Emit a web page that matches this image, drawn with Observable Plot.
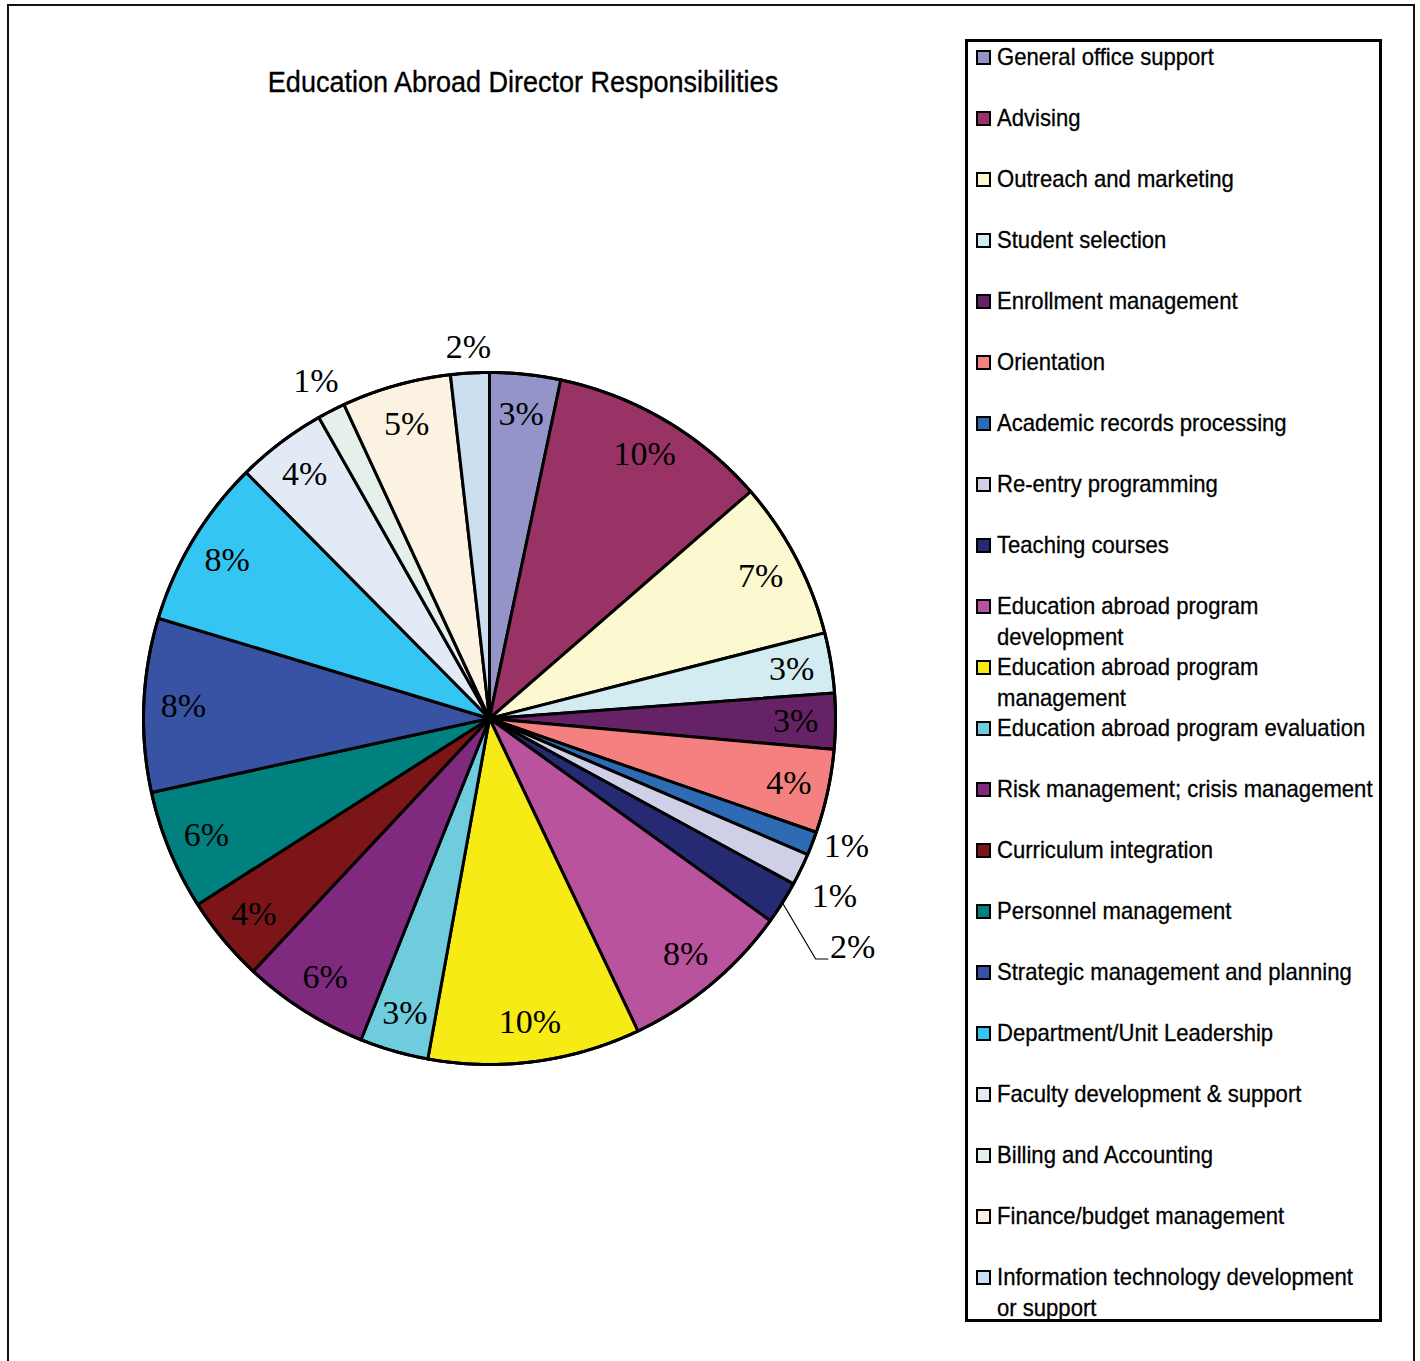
<!DOCTYPE html>
<html>
<head>
<meta charset="utf-8">
<script src="https://cdn.jsdelivr.net/npm/d3@7"></script>
<script src="https://cdn.jsdelivr.net/npm/@observablehq/plot@0.6"></script>
<style>
  html, body { margin: 0; padding: 0; background: #fff; }
  #page { position: relative; width: 1420px; height: 1361px; overflow: hidden; }
  #frame { position: absolute; left: 7px; top: 4px; width: 1408px; height: 1400px; border: 2px solid #111; box-sizing: border-box; }
  #title { position: absolute; left: 0; top: 67px; width: 1046px; text-align: center;
    font-family: "Liberation Sans", Arial, sans-serif; font-size: 30px; line-height: 30px; color: #000;
    white-space: nowrap; transform: scaleX(0.9); transform-origin: 523px 0; -webkit-text-stroke: 0.35px #000; }
  #chart { position: absolute; left: 0; top: 0; }
  #legend { position: absolute; left: 965px; top: 39px; width: 417px; height: 1283px; border: 3px solid #000; box-sizing: border-box; }
  .item { position: absolute; left: 0; width: 100%; font-family: "Liberation Sans", Arial, sans-serif;
    font-size: 24px; line-height: 30.5px; color: #000; }
  .sw { position: absolute; left: 8px; top: 8px; width: 15px; height: 15px; border: 2.5px solid #000; box-sizing: border-box; }
  .lt { position: absolute; left: 29px; white-space: pre; transform: scaleX(0.92); transform-origin: 0 0; -webkit-text-stroke: 0.3px #000; }
</style>
</head>
<body>
<div id="page">
  <div id="frame"></div>
  <div id="title">Education Abroad Director Responsibilities</div>
  <div id="chart"></div>
  <div id="legend"></div>
</div>
<script>
const categories = [
  "General office support", "Advising", "Outreach and marketing", "Student selection",
  "Enrollment management", "Orientation", "Academic records processing", "Re-entry programming",
  "Teaching courses", "Education abroad program development", "Education abroad program management",
  "Education abroad program evaluation", "Risk management; crisis management", "Curriculum integration",
  "Personnel management", "Strategic management and planning", "Department/Unit Leadership",
  "Faculty development & support", "Billing and Accounting", "Finance/budget management",
  "Information technology development or support"
];
// legend text as wrapped in the reference
const legendLabels = categories.map(c => c
  .replace("program development", "program\ndevelopment")
  .replace("program management", "program\nmanagement")
  .replace("development or support", "development\nor support"));
const values = [3.3, 10.3, 7.4, 2.8, 2.6, 3.9, 1.1, 1.5, 2.0, 8.0, 9.9, 3.2, 5.9, 4.0, 5.6, 8.1, 7.9, 4.2, 1.3, 5.1, 1.8];
const labels = ["3%", "10%", "7%", "3%", "3%", "4%", "1%", "1%", "2%", "8%", "10%", "3%", "6%", "4%", "6%", "8%", "8%", "4%", "1%", "5%", "2%"];
const colors = [
  "#9494c8", "#993366", "#fcf8cf", "#d2ecf2", "#662266", "#f48080", "#2f6bb5", "#d0cfe8",
  "#262a73", "#ba539e", "#f7eb15", "#6fccdc", "#7f2a7e", "#7b1517", "#00807f", "#3953a4",
  "#34c5f2", "#e2eaf6", "#e6f0ea", "#fbf2e1", "#ccdff0"
];

// geometry of the plot frame
const W = 960, H = 1361, CX = 489, CY = 718, R = 346;

const arcs = d3.pie().sort(null).value(d => d)(values); // angles from 12 o'clock clockwise

// polygon points for each slice
const pts = [];
arcs.forEach((a, i) => {
  const name = categories[i];
  pts.push({name, x: 0, y: 0});
  const n = Math.max(2, Math.ceil((a.endAngle - a.startAngle) / 0.005));
  for (let k = 0; k <= n; k++) {
    const t = a.startAngle + (a.endAngle - a.startAngle) * k / n;
    pts.push({name, x: Math.sin(t), y: Math.cos(t)});
  }
  pts.push({name, x: 0, y: 0});
});

// label positions: inside for larger slices, just outside for the thin ones
const hw = 23 / R, hh = 15 / R, gap = 10 / R;
const lab = arcs.map((a, i) => {
  const m = (a.startAngle + a.endAngle) / 2;
  const outside = values[i] < 2.5;
  let r = outside ? 1 + gap + Math.abs(Math.sin(m)) * hw + Math.abs(Math.cos(m)) * hh : 0.885;
  if (i === 8) r = 1.24;
  return {label: labels[i], x: r * Math.sin(m), y: r * Math.cos(m), mid: m, outside, i};
});
// separate neighbouring outside labels vertically
const minGap = 50 / R;
for (let i = 0; i < lab.length - 1; i++) {
  const a = lab[i], b = lab[i + 1];
  if (a.outside && b.outside && i + 1 !== 8 && i !== 8) {
    const d = Math.abs(a.y - b.y);
    if (d < minGap && Math.abs(a.x - b.x) < 60 / R) {
      const s = (minGap - d) / 2, dir = a.y > b.y ? 1 : -1;
      a.y += s * dir; b.y -= s * dir;
    }
  }
}
// leader line for the displaced teaching label
const tl = lab[8];
const leader = [
  {x: Math.sin(tl.mid), y: Math.cos(tl.mid)},
  {x: tl.x - 0.107, y: tl.y - 0.035},
  {x: tl.x - 0.072, y: tl.y - 0.035}
];
const circle = d3.range(0, 361).map(d => ({x: Math.sin(d * Math.PI / 180), y: Math.cos(d * Math.PI / 180)}));

const chart = Plot.plot({
  width: W, height: H,
  margin: 0,
  x: {domain: [-CX / R, (W - CX) / R], axis: null},
  y: {domain: [-(H - CY) / R, CY / R], axis: null},
  color: {domain: categories, range: colors},
  marks: [
    Plot.line(pts, {x: "x", y: "y", z: "name", fill: "name", stroke: "#000", strokeWidth: 3, strokeLinejoin: "round"}),
    Plot.line(circle, {x: "x", y: "y", stroke: "#000", strokeWidth: 3}),
    Plot.line(leader, {x: "x", y: "y", stroke: "#000", strokeWidth: 1.2}),
    Plot.text(lab, {x: "x", y: "y", text: "label", fontFamily: "Liberation Serif, Times New Roman, serif", fontSize: 34, fill: "#000"})
  ]
});
document.getElementById("chart").appendChild(chart);

// legend
const leg = document.getElementById("legend");
categories.forEach((c, i) => {
  const it = document.createElement("div");
  it.className = "item";
  it.style.top = (61 * i) + "px";
  const sw = document.createElement("div");
  sw.className = "sw";
  sw.style.background = colors[i];
  const tx = document.createElement("div");
  tx.className = "lt";
  tx.textContent = legendLabels[i];
  it.appendChild(sw); it.appendChild(tx);
  leg.appendChild(it);
});
</script>
</body>
</html>
